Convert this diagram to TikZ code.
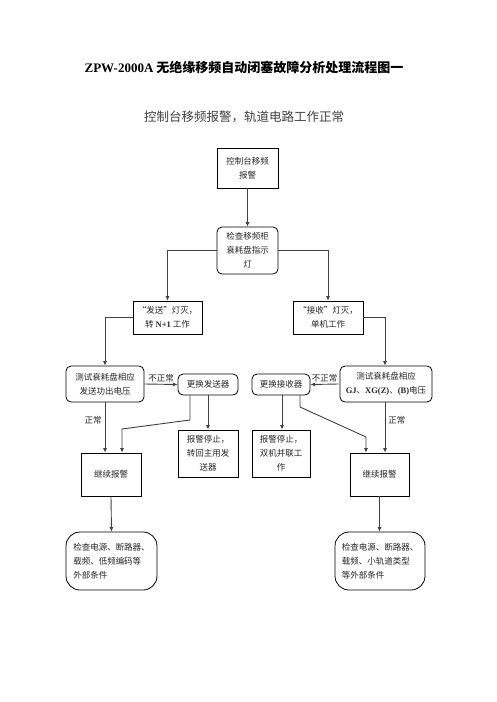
\documentclass[tikz,border=0pt]{standalone}
\usepackage{fontspec}
\setmainfont{Noto Sans CJK SC}
\newfontfamily\lat{Liberation Serif}
\usetikzlibrary{arrows.meta}
\begin{document}
\begin{tikzpicture}[x=1pt,y=-1pt,
  box/.style={draw=black,line width=0.8pt,inner sep=0pt,align=center,text=black!85,
    font=\fontsize{8.5}{14}\selectfont},
  rbox/.style={box,rounded corners=5pt},
  endbox/.style={box,rounded corners=14pt,align=left},
  conn/.style={draw=black!75,line width=0.9pt},
  arr/.style={conn,-{Latex[length=4.5pt,width=4pt]}},
  lbl/.style={inner sep=0pt,text=black!85,font=\fontsize{8.5}{10}\selectfont}]
\useasboundingbox (0,0) rectangle (496,702);

\node[font=\fontsize{13}{14}\selectfont\bfseries] (title) at (244,67) {{\lat ZPW-2000A} 无绝缘移频自动闭塞故障分析处理流程图一};
\node[font=\fontsize{12.5}{14}\selectfont,text=black!75] (sub) at (244,117) {控制台移频报警，轨道电路工作正常};

\node[box,minimum width=61,minimum height=40] (b1) at (247.5,168) {控制台移频\\报警};
\node[rbox,minimum width=61,minimum height=47] (b2) at (247.5,250.5) {检查移频柜\\衰耗盘指示\\灯};
\node[box,minimum width=69,minimum height=33] (b3) at (167.5,317.5) {“发送”灯灭，\\转 {\lat\bfseries N+1} 工作};
\node[box,minimum width=70,minimum height=33] (b4) at (328,317.5) {“接收”灯灭，\\单机工作};
\node[rbox,minimum width=78,minimum height=36] (b5) at (105,384) {测试衰耗盘相应\\发送功出电压};
\node[rbox,minimum width=60,minimum height=21] (b6) at (208,384.5) {更换发送器};
\node[box,minimum width=60,minimum height=43] (b7) at (111,474.5) {继续报警};
\node[box,minimum width=60,minimum height=47] (b8) at (208,453.5) {报警停止，\\转回主用发\\送器};
\node[rbox,minimum width=58,minimum height=21] (b9) at (281,384.5) {更换接收器};
\node[rbox,minimum width=92,minimum height=36] (b10) at (386,384) {测试衰耗盘相应\\{\lat\bfseries GJ}、{\lat\bfseries XG(Z)}、{\lat\bfseries (B)}电压};
\node[box,minimum width=59,minimum height=43] (b11) at (379.5,474.5) {继续报警};
\node[box,minimum width=58,minimum height=47] (b12) at (281,453.5) {报警停止，\\双机并联工\\作};
\node[endbox,minimum width=91,minimum height=58] (b13) at (111.5,561) {检查电源、断路器、\\载频、低频编码等\\外部条件};
\node[endbox,minimum width=90,minimum height=58] (b14) at (380,561) {检查电源、断路器、\\载频、小轨道类型\\等外部条件};

\draw[arr] (b1.south) -- (b2.north);
\draw[arr] (b2.west) -| (b3.north);
\draw[arr] (b2.east) -| (b4.north);
\draw[arr] (b3.west) -| (b5.north);
\draw[arr] (b4.east) -| ([xshift=-1pt]b10.north);
\draw[arr] (b5.east) -- node[lbl,above=2pt] (l1) {不正常} (b6.west);
\draw[arr] ([xshift=-1pt]b10.west) -- node[lbl,above=2pt] (l2) {不正常} (b9.east);
\draw[arr] (b5.south) -- node[lbl,pos=0.35,left=3pt] (l3) {正常} (b5.south |- b7.north);
\draw[arr] ([xshift=-1pt]b10.south) -- node[lbl,pos=0.35,right=3pt] (l4) {正常} ([xshift=-1pt]b10.south |- b11.north);
\coordinate (c1) at (190,420);
\coordinate (c2) at (122,429);
\draw[arr] (b6.south -| c1) -- (c1) -- (c2) -- (c2 |- b7.north);
\draw[arr] (b6.south) -- (b8.north);
\draw[arr] ([xshift=1pt]b9.south) -- ([xshift=1pt]b12.north);
\coordinate (c3) at (300,407);
\coordinate (c4) at (366,437);
\draw[arr] (b9.south -| c3) -- (c3) -- (c4) -- (c4 |- b11.north);
\draw[arr] (b7.south) -- (b13.north);
\draw[arr] (b11.south) -- (b11.south |- b14.north);
\end{tikzpicture}
\end{document}
